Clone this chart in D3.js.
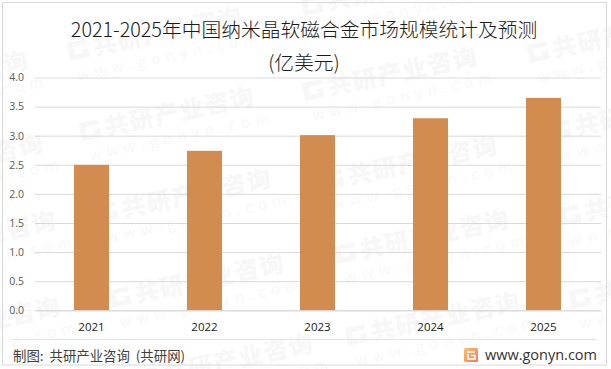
<!DOCTYPE html>
<html>
<head>
<meta charset="utf-8">
<script src="https://cdn.jsdelivr.net/npm/d3@7"></script>
<style>
  html, body { margin: 0; padding: 0; background: #fff; }
  svg { display: block; }
  text { font-family: "Noto Sans CJK SC", "Noto Sans", sans-serif; }
  .tick text { font-family: "Open Sans", "Noto Sans", sans-serif; }
</style>
</head>
<body>
<div id="chart-area"></div>
<script>
// chart data
var years = ["2021", "2022", "2023", "2024", "2025"];
var values = [2.5, 2.74, 3.01, 3.3, 3.65];
var yTicks = [0, 0.5, 1, 1.5, 2, 2.5, 3, 3.5, 4];

var titleLines = ["2021-2025年中国纳米晶软磁合金市场规模统计及预测", "(亿美元)"];
var sourceText = "制图: 共研产业咨询 (共研网)";
var siteText = "www.gonyn.com";

// where the background watermark stamps sit (logo corner of each one)
var stampX = [70, 82, 305, 530, 552, 99, 112, 337, 348, 562, 572, 141, 304, 325, -144, -129, -116, -112];
var stampY = [60, 140, 100, 62, 140, 222, 307, 263, 345, 225, 308, 387, 15, 189, 104, 187, 264, 350];

var width = 611, height = 369;
var margin = { top: 77.5, right: 11, bottom: 58.7, left: 35 };
var plotW = width - margin.left - margin.right;
var plotH = height - margin.top - margin.bottom;

var svg = d3.select("#chart-area")
  .append("svg")
    .attr("width", width)
    .attr("height", height);

var defs = svg.append("defs");
var logoGrad = defs.append("linearGradient")
    .attr("id", "logo-grad")
    .attr("x1", 0).attr("y1", 0).attr("x2", 1).attr("y2", 1);
logoGrad.append("stop").attr("offset", "0%").attr("stop-color", "#f9c46b");
logoGrad.append("stop").attr("offset", "100%").attr("stop-color", "#f0775f");

svg.append("rect")
    .attr("width", width)
    .attr("height", height)
    .attr("fill", "#fff");

// Watermarks
var stamps = svg.append("g").attr("class", "stamps");
stampX.forEach(function(sx, i) {
  var s = stamps.append("g")
    .attr("transform", "translate(" + sx + "," + stampY[i] + ") rotate(-12)");
  s.append("path")
    .attr("d", "M0,-17 H20 V-12 H6 V-4 H14 V-8 H20 V1 H0 Z")
    .attr("fill", "#f7f7f7");
  s.append("text")
    .attr("x", 25)
    .attr("y", 1)
    .attr("font-size", 24)
    .attr("font-weight", 900)
    .attr("letter-spacing", 1.5)
    .attr("fill", "#f7f7f7")
    .text("共研产业咨询");
  s.append("text")
    .attr("x", 4)
    .attr("y", 22)
    .attr("font-size", 15)
    .attr("letter-spacing", 5.5)
    .attr("fill", "#f8f8f8")
    .text("www.gonyn.com");
});

// Outer border
svg.append("rect")
    .attr("x", 2.5)
    .attr("y", 2.5)
    .attr("width", 604)
    .attr("height", 362.5)
    .attr("fill", "none")
    .attr("stroke", "#d9d9d9");

var g = svg.append("g")
    .attr("transform", "translate(" + margin.left + ", " + margin.top + ")");

// X Scale
var x = d3.scaleBand()
    .domain(years)
    .range([0, plotW])
    .paddingInner(0.69)
    .paddingOuter(0.345);

// Y Scale
var y = d3.scaleLinear()
    .domain([0, 4])
    .range([plotH, 0]);

// Y Axis
var yAxisCall = d3.axisLeft(y)
    .tickValues(yTicks)
    .tickSize(-plotW - 1)
    .tickPadding(11)
    .tickFormat(d3.format(".1f"));
var yAxisGroup = g.append("g").attr("class", "y axis").call(yAxisCall);
yAxisGroup.select(".domain").remove();
yAxisGroup.selectAll("line").attr("stroke", "#d9d9d9");
yAxisGroup.selectAll("text")
    .attr("font-size", "10.5px")
    .attr("fill", "#595959");

// Bars
g.selectAll("rect.bar")
  .data(values)
  .enter()
  .append("rect")
    .attr("class", "bar")
    .attr("x", function(d, i) { return x(years[i]); })
    .attr("y", function(d) { return y(d); })
    .attr("width", x.bandwidth())
    .attr("height", function(d) { return plotH - y(d); })
    .attr("fill", "#d28c4f");

// X Axis
var xAxisCall = d3.axisBottom(x).tickSize(0).tickPadding(13);
var xAxisGroup = g.append("g")
    .attr("class", "x axis")
    .attr("transform", "translate(0, " + plotH + ")")
    .call(xAxisCall);
xAxisGroup.select(".domain").attr("stroke", "#d9d9d9");
xAxisGroup.selectAll("text")
    .attr("font-size", "11.5px")
    .attr("fill", "#1a1a1a");

// Title
svg.selectAll("text.title")
  .data(titleLines)
  .enter()
  .append("text")
    .attr("class", "title")
    .attr("x", 304)
    .attr("y", function(d, i) { return 37 + i * 33; })
    .attr("text-anchor", "middle")
    .attr("font-size", "19.75px")
    .attr("font-weight", 300)
    .attr("fill", "#1a1a1a")
    .text(function(d) { return d; });

// Footer
svg.append("line")
    .attr("x1", 13)
    .attr("x2", 597)
    .attr("y1", 339.5)
    .attr("y2", 339.5)
    .attr("stroke", "#e3e3e3");

svg.append("text")
    .attr("x", 13)
    .attr("y", 361)
    .attr("font-size", "13.4px")
    .attr("word-spacing", "3px")
    .attr("fill", "#404040")
    .text(sourceText);

svg.append("text")
    .attr("x", 597)
    .attr("y", 360)
    .attr("text-anchor", "end")
    .attr("font-size", "14.5px")
    .attr("style", "font-family:'Open Sans','Noto Sans',sans-serif")
    .attr("fill", "#333")
    .text(siteText);

// Footer logo
var logo = svg.append("g").attr("transform", "translate(464, 348)");
logo.append("rect")
    .attr("width", 14)
    .attr("height", 14)
    .attr("rx", 1.5)
    .attr("fill", "url(#logo-grad)");
logo.append("path")
    .attr("d", "M3,4 H11 M7,7.5 H11 V11 H4 V6")
    .attr("fill", "none")
    .attr("stroke", "#fff")
    .attr("stroke-width", 1.6);
</script>
</body>
</html>
